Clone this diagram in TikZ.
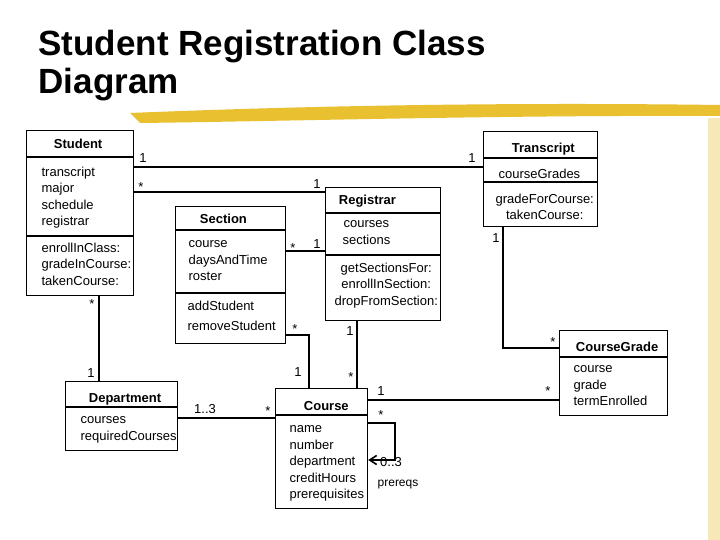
\documentclass[tikz,border=0pt]{standalone}
\usepackage{fontspec}
\setmainfont{Liberation Sans}
\usetikzlibrary{arrows.meta, positioning}
\definecolor{brush}{RGB}{232,192,48}

\begin{document}
\begin{tikzpicture}[x=1pt, y=-1pt, line width=1.2pt,
    cls/.style={draw, anchor=north west, inner sep=0pt},
    ttl/.style={font=\bfseries\fontsize{13}{15}\selectfont, anchor=west},
    att/.style={font=\fontsize{13}{16.5}\selectfont, align=left, anchor=north west, inner sep=0pt},
    mult/.style={font=\fontsize{13}{15}\selectfont, inner sep=0pt}]

            \useasboundingbox (0,0) rectangle (720,540);
            % title and brush stroke
            \fill[brush] (130,113) .. controls (300,106) and (500,102) .. (720,105) -- (720,116) .. controls (500,115) and (300,121) .. (140,123) -- cycle;
            \fill[brush!35] (708,118) rectangle (720,540);
            \node[anchor=north west, align=left, font=\bfseries\fontsize{35}{38}\selectfont, inner sep=0pt] (title) at (38,30) {Student Registration Class\\Diagram};

            % classes
            \node[cls, minimum width=107pt, minimum height=165pt] (stu) at (26,130) {};
            \node[cls, minimum width=114pt, minimum height=95pt] (trn) at (483,131) {};
            \node[cls, minimum width=115pt, minimum height=133pt] (reg) at (325,187) {};
            \node[cls, minimum width=110pt, minimum height=137pt] (sec) at (175,206) {};
            \node[cls, minimum width=112pt, minimum height=69pt] (dep) at (65,381) {};
            \node[cls, minimum width=92pt, minimum height=120pt] (crs) at (275,388) {};
            \node[cls, minimum width=108pt, minimum height=85pt] (cgr) at (559,330) {};

            % compartments
            \draw (26,157) -- (133,157) (26,236) -- (133,236);
            \draw (483,158) -- (597,158) (483,182) -- (597,182);
            \draw (325,213) -- (440,213) (325,255) -- (440,255);
            \draw (175,230) -- (285,230) (175,293) -- (285,293);
            \draw (65,407) -- (177,407);
            \draw (275,415) -- (367,415);
            \draw (559,357) -- (667,357);

            % names
            \node[ttl] at (50,144) {Student};
            \node[ttl] at (508,149) {Transcript};
            \node[ttl] at (335,201) {Registrar};
            \node[ttl] at (196,219) {Section};
            \node[ttl] at (85,399) {Department};
            \node[ttl] at (300,406) {Course};
            \node[ttl] at (572,347) {CourseGrade};

            % attributes and operations
            \node[att] at (41,166) {transcript\\major\\schedule\\registrar};
            \node[att] at (41,242) {enrollInClass:\\gradeInCourse:\\takenCourse:};
            \node[att] at (498,168) {courseGrades};
            \node[att, align=center] at (495,193) {gradeForCourse:\\takenCourse:};
            \node[att, align=center] at (342,220) {courses\\sections};
            \node[att, align=center] at (334,262) {getSectionsFor:\\enrollInSection:\\dropFromSection:};
            \node[att] at (188,240) {course\\daysAndTime\\roster};
            \node[att, font=\fontsize{13}{20}\selectfont] at (187,300) {addStudent\\removeStudent};
            \node[att] at (80,416) {courses\\requiredCourses};
            \node[att] at (289,425) {name\\number\\department\\creditHours\\prerequisites};
            \node[att] at (573,365) {course\\grade\\termEnrolled};

            % associations
            \coordinate (p1) at (309,335);
            \coordinate (p2) at (503,348);
            \coordinate (p3) at (395,423);
            \coordinate (p4) at (395,460);
            \draw (stu.east |- 0,167) -- (trn.west |- 0,167);
            \draw (stu.east |- 0,192) -- (reg.west |- 0,192);
            \draw (sec.east |- 0,251) -- (reg.west |- 0,251);
            \draw (stu.south -| 99,0) -- (dep.north -| 99,0);
            \draw (sec.east |- p1) -- (p1) -- (crs.north -| p1);
            \draw (reg.south -| 357,0) -- (crs.north -| 357,0);
            \draw (dep.east |- 0,418) -- (crs.west |- 0,418);
            \draw (crs.east |- 0,400) -- (cgr.west |- 0,400);
            \draw (trn.south -| p2) -- (p2) -- (cgr.west |- p2);
            \draw[-{Straight Barb[length=7pt,width=9pt,line width=1.6pt]}] (crs.east |- p3) -- (p3) -- (p4) -- (crs.east |- p4);

            % multiplicities
            \node[mult] at (143,158) {1};
            \node[mult] at (472,158) {1};
            \node[mult] at (141,187) {*};
            \node[mult] at (317,184) {1};
            \node[mult] at (293,248) {*};
            \node[mult] at (317,244) {1};
            \node[mult] at (92,304) {*};
            \node[mult] at (91,373) {1};
            \node[mult] at (295,329) {*};
            \node[mult] at (298,372) {1};
            \node[mult] at (350,331) {1};
            \node[mult] at (351,377) {*};
            \node[mult] at (205,409) {1..3};
            \node[mult] at (268,411) {*};
            \node[mult] at (381,391) {1};
            \node[mult] at (548,391) {*};
            \node[mult] at (496,238) {1};
            \node[mult] at (553,342) {*};
            \node[mult] at (381,415) {*};
            \node[mult] at (391,462) {0..3};
            \node[mult, font=\fontsize{12}{14}\selectfont] at (398,485) {prereqs};

        \end{tikzpicture}
\end{document}
